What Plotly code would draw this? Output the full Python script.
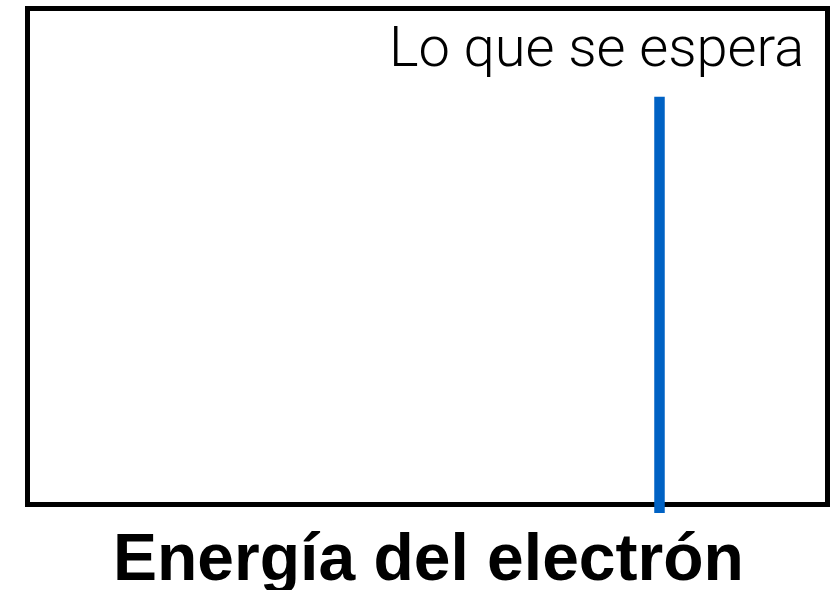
import plotly.graph_objects as go

# Data (box spans 0..1 in both axes)
expected_energy = [0.79, 0.79]
expected_intensity = [-0.017, 0.822]
title_text = "Lo que se espera"
xlabel_text = "Energía del electrón"

W, H = 834, 590

fig = go.Figure()

# Box frame
fig.add_shape(type="rect", xref="x", yref="y", x0=0, x1=1, y0=0, y1=1,
              line=dict(color="black", width=5), fillcolor="rgba(0,0,0,0)", layer="below")

fig.add_trace(go.Scatter(
    x=expected_energy, y=expected_intensity, mode="lines",
    line=dict(color="#0062C4", width=10.5), hoverinfo="skip", showlegend=False,
))

fig.add_annotation(text=title_text, xref="paper", yref="paper",
                   x=806 / W, y=1 - 47 / H, xanchor="right", yanchor="middle",
                   showarrow=False,
                   font=dict(family="Roboto", size=56, color="black", weight=300))

fig.add_annotation(text=xlabel_text, xref="paper", yref="paper",
                   x=428.5 / W, y=1 - 557 / H, xanchor="center", yanchor="middle",
                   showarrow=False,
                   font=dict(family="Liberation Sans", size=66, color="black", weight="bold"))

fig.update_xaxes(range=[-27.5 / 800, 806.5 / 800], visible=False, fixedrange=True)
fig.update_yaxes(range=[-85.5 / 496, 504.5 / 496], visible=False, fixedrange=True)

fig.update_layout(
    width=W, height=H,
    margin=dict(l=0, r=0, t=0, b=0, pad=0),
    paper_bgcolor="white", plot_bgcolor="white",
    showlegend=False,
)

fig.write_html("out.html", config={"displayModeBar": False},
               post_script="document.body.style.margin='0';document.body.style.overflow='hidden';")
